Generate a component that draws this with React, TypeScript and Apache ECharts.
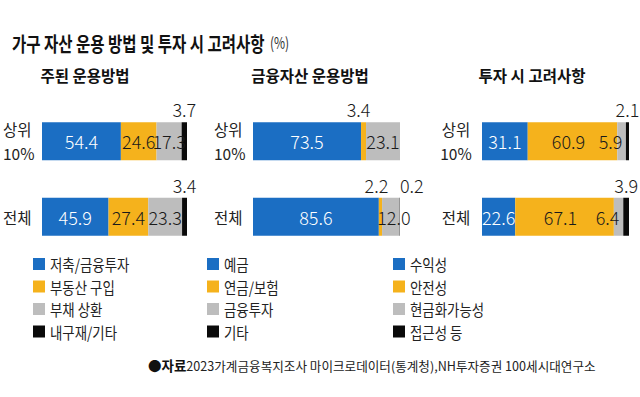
import React, { useEffect, useRef } from "react";
import * as echarts from "echarts";

// ---- data ----
const categories = ["상위\n10%", "전체"];
const panelTitles = ["주된 운용방법", "금융자산 운용방법", "투자 시 고려사항"];

const p1Names = ["저축/금융투자", "부동산 구입", "부채 상환", "내구재/기타"];
const p1Top = [54.4, 24.6, 17.3, 3.7];
const p1All = [45.9, 27.4, 23.3, 3.4];

const p2Names = ["예금", "연금/보험", "금융투자", "기타"];
const p2Top = [73.5, 3.4, 23.1, 0];
const p2All = [85.6, 2.2, 12.0, 0.2];

const p3Names = ["수익성", "안전성", "현금화가능성", "접근성 등"];
const p3Top = [31.1, 60.9, 5.9, 2.1];
const p3All = [22.6, 67.1, 6.4, 3.9];

const chartTitle = "가구 자산 운용 방법 및 투자 시 고려사항";
const unitText = "(%)";
const sourceLabel = "●자료";
const sourceText = "2023가계금융복지조사 마이크로데이터(통계청),NH투자증권 100세시대연구소";

// ---- styles ----
const FONT = "'Noto Sans CJK KR', 'Noto Sans', sans-serif";
const COLORS = ["#1b6ec3", "#f5b21c", "#bdbdbd", "#0a0a0a"];
const GRID_LEFT = [40, 253, 482];
const GRID_WIDTH = 147;
const GRID_TOP = 103.5;
const GRID_HEIGHT = 151;
const TITLE_CX = [85, 310, 532];
const LEGEND_X = [33, 207, 393];
const LEGEND_TOP = 264;
const LEGEND_STEP = 22.5;
// label nudges: "panel-series-category" -> x offset
const NUDGE: Record<string, number> = {
  "1-1-0": -5,
  "1-1-1": -4,
  "1-3-1": 12,
  "1-2-1": 3,
  "2-1-0": -4,
  "2-1-1": -4,
  "2-2-0": -11,
  "2-2-1": -11,
  "2-3-0": 0,
  "2-3-1": 0,
};

const panels = [
  { names: p1Names, top: p1Top, all: p1All },
  { names: p2Names, top: p2Top, all: p2All },
  { names: p3Names, top: p3Top, all: p3All },
];

function buildOption() {
  const grids: any[] = [];
  const xAxes: any[] = [];
  const yAxes: any[] = [];
  const series: any[] = [];
  const graphic: any[] = [];

  panels.forEach((p, pi) => {
    grids.push({
      left: GRID_LEFT[pi],
      top: GRID_TOP,
      width: GRID_WIDTH,
      height: GRID_HEIGHT,
      containLabel: false,
    });
    xAxes.push({
      type: "value",
      gridIndex: pi,
      min: 0,
      max: 100,
      show: false,
    });
    yAxes.push({
      type: "category",
      gridIndex: pi,
      inverse: true,
      data: categories,
      axisLine: { show: false },
      axisTick: { show: false },
      splitLine: { show: false },
      axisLabel: {
        align: pi === 2 ? "center" : "left",
        margin: pi === 2 ? 26 : 39,
        fontSize: 15.5,
        lineHeight: 24,
        color: "#222",
        fontFamily: FONT,
      },
    });
    p.names.forEach((name, si) => {
      const vals = [p.top[si], p.all[si]];
      series.push({
        type: "bar",
        name,
        xAxisIndex: pi,
        yAxisIndex: pi,
        stack: "s" + pi,
        barWidth: 38,
        itemStyle: { color: COLORS[si] },
        data: vals.map((v, ci) => {
          const off = NUDGE[`${pi}-${si}-${ci}`] || 0;
          const outside = v < 5;
          return {
            value: v,
            label: {
              show: v > 0,
              position: outside ? "top" : "inside",
              distance: 4,
              offset: [off, 0],
              formatter: () => v.toFixed(1),
              color: !outside && si === 0 ? "#fff" : "#1a1a1a",
              fontSize: 18,
              fontWeight: 300,
              fontFamily: FONT,
            },
          };
        }),
      });
      // legend entries
      const cy = LEGEND_TOP + si * LEGEND_STEP;
      graphic.push({
        type: "rect",
        shape: { x: LEGEND_X[pi], y: cy - 6, width: 12, height: 12 },
        style: { fill: COLORS[si] },
      });
      graphic.push({
        type: "text",
        x: LEGEND_X[pi] + 17,
        y: cy,
        scaleX: 0.84,
        style: {
          text: name,
          fontSize: 16,
          fontFamily: FONT,
          fill: "#222",
          textVerticalAlign: "middle",
          verticalAlign: "middle",
          textAlign: "left",
        },
      });
    });
    graphic.push({
      type: "text",
      x: TITLE_CX[pi],
      y: 75,
      style: {
        text: panelTitles[pi],
        fontSize: 15.5,
        fontWeight: "bold",
        fontFamily: FONT,
        fill: "#111",
        textAlign: "center",
        textVerticalAlign: "middle",
        verticalAlign: "middle",
      },
    });
  });

  graphic.push({
    type: "text",
    x: 12,
    y: 43,
    scaleX: 0.775,
    style: {
      text: chartTitle,
      fontSize: 20,
      fontWeight: "bold",
      fontFamily: FONT,
      fill: "#111",
      textVerticalAlign: "middle",
      verticalAlign: "middle",
    },
  });
  graphic.push({
    type: "text",
    x: 270,
    y: 42,
    scaleX: 0.75,
    style: {
      text: unitText,
      fontSize: 16,
      fontFamily: FONT,
      fill: "#333",
      textVerticalAlign: "middle",
      verticalAlign: "middle",
    },
  });
  graphic.push({
    type: "text",
    x: 148,
    y: 365,
    style: {
      text: `{b|${sourceLabel}}{n|${sourceText}}`,
      fontFamily: FONT,
      fill: "#222",
      textVerticalAlign: "middle",
      verticalAlign: "middle",
      rich: {
        b: { fontSize: 13.5, fontWeight: "bold", fontFamily: FONT, fill: "#111" },
        n: { fontSize: 12.6, fontFamily: FONT, fill: "#222" },
      },
    },
  });

  return {
    animation: false,
    backgroundColor: "#fff",
    grid: grids,
    xAxis: xAxes,
    yAxis: yAxes,
    series,
    graphic,
  };
}

export default function App() {
  const ref = useRef<HTMLDivElement>(null);
  useEffect(() => {
    if (!ref.current) return;
    const chart = echarts.init(ref.current, undefined, { renderer: "svg" });
    chart.setOption(buildOption() as any);
    return () => chart.dispose();
  }, []);
  return (
    <div
      ref={ref}
      style={{ position: "fixed", left: 0, top: 0, width: 640, height: 397, background: "#fff" }}
    />
  );
}
